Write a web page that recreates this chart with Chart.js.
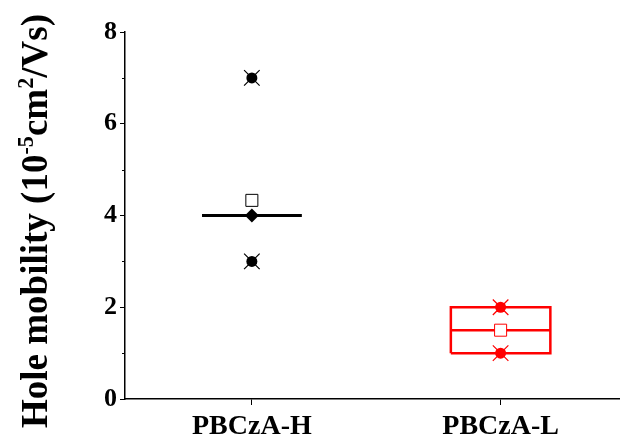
<!DOCTYPE html>
<html>
<head>
<meta charset="utf-8">
<script src="https://cdn.jsdelivr.net/npm/chart.js"></script>
<style>body{margin:0;background:#fff}</style>
</head>
<body>
<canvas id="myChart" width="620" height="439"></canvas>
<script>
// Data
const categories = ['PBCzA-H', 'PBCzA-L'];
const colors = ['#000000', '#ff0000'];
const samples = [[7, 3], [2, 1]];
const diamonds = [4, null];
const boxLow = [4, 1];
const boxHigh = [4, 2];
const medians = [4, 1.5];
const means = [4.33, 1.5];
const yTicks = [0, 2, 4, 6, 8];
const yMinor = [1, 3, 5, 7];
const halfWidth = 0.2;

const serif = "'Liberation Serif', 'Times New Roman', serif";

const datasets = [];
categories.forEach(function (c, i) {
  const x = i + 1;
  const lo = boxLow[i], hi = boxHigh[i];
  datasets.push({
    data: [{x: x - halfWidth, y: lo}, {x: x + halfWidth, y: lo}, {x: x + halfWidth, y: hi},
           {x: x - halfWidth, y: hi}, {x: x - halfWidth, y: lo}],
    showLine: true, borderColor: colors[i], borderWidth: i == 0 ? 3 : 2.5,
    pointRadius: 0, order: 5
  });
  datasets.push({
    data: [{x: x - halfWidth, y: medians[i]}, {x: x + halfWidth, y: medians[i]}],
    showLine: true, borderColor: colors[i], borderWidth: i == 0 ? 3 : 2.5,
    pointRadius: 0, order: 5
  });
  datasets.push({
    data: samples[i].map(v => ({x: x, y: v})),
    pointStyle: 'circle', pointRadius: 5.5, backgroundColor: colors[i],
    borderWidth: 0, order: 2
  });
  datasets.push({
    data: samples[i].map(v => ({x: x, y: v})),
    pointStyle: 'crossRot', pointRadius: 11, borderColor: colors[i],
    borderWidth: 1.2, order: 1
  });
  datasets.push({
    data: [{x: x, y: means[i]}],
    pointStyle: 'rect', pointRadius: 8.5, backgroundColor: '#ffffff',
    borderColor: colors[i], borderWidth: 1, order: 0
  });
  if (diamonds[i] !== null) {
    datasets.push({
      data: [{x: x, y: diamonds[i]}],
      pointStyle: 'rectRot', pointRadius: 7, backgroundColor: colors[i],
      borderColor: colors[i], borderWidth: 0, order: 0
    });
  }
});

// y title with superscripts + minor ticks
const extras = {
  id: 'extras',
  afterDraw(chart) {
    const ctx = chart.ctx;
    const ys = chart.scales.y;
    const left = chart.chartArea.left;
    ctx.save();
    ctx.strokeStyle = '#000';
    ctx.lineWidth = 1;
    yMinor.forEach(function (v) {
      const y = Math.round(ys.getPixelForValue(v)) + 0.5;
      ctx.beginPath();
      ctx.moveTo(left - 3, y);
      ctx.lineTo(left, y);
      ctx.stroke();
    });
    ctx.restore();

    const size = 37;
    const parts = [
      ['Hole mobility (10', false], ['-5', true], ['cm', false], ['2', true], ['/Vs)', false]
    ];
    ctx.save();
    ctx.fillStyle = '#000';
    ctx.textBaseline = 'alphabetic';
    let total = 0;
    parts.forEach(function (p) {
      ctx.font = 'bold ' + (p[1] ? size * 0.6 : size) + 'px ' + serif;
      p.push(ctx.measureText(p[0]).width);
      total += p[2];
    });
    ctx.translate(47, 221);
    ctx.rotate(-Math.PI / 2);
    let pos = -total / 2;
    parts.forEach(function (p) {
      ctx.font = 'bold ' + (p[1] ? size * 0.6 : size) + 'px ' + serif;
      ctx.fillText(p[0], pos, p[1] ? -size * 0.38 : 0);
      pos += p[2];
    });
    ctx.restore();
  }
};

const config = {
  type: 'scatter',
  data: {datasets: datasets},
  options: {
    responsive: false,
    animation: false,
    layout: {autoPadding: false, padding: {top: 32, right: 0, left: 0, bottom: 0}},
    plugins: {legend: {display: false}, tooltip: {enabled: false}},
    scales: {
      x: {
        type: 'linear', min: 0.49, max: 2.48,
        afterBuildTicks: s => { s.ticks = categories.map((c, i) => ({value: i + 1})); },
        afterFit: s => { s.height = 40; },
        ticks: {
          callback: (v, i) => categories[i],
          font: {family: serif, size: 28, weight: 'bold'}, color: '#000', padding: 5,
          maxRotation: 0, autoSkip: false
        },
        grid: {drawOnChartArea: false, tickLength: 6, color: '#000', lineWidth: 1},
        border: {color: '#000', width: 1.5}
      },
      y: {
        min: 0, max: 8,
        afterBuildTicks: s => { s.ticks = yTicks.map(v => ({value: v})); },
        afterFit: s => { s.width = 125; },
        ticks: {
          font: {family: serif, size: 26, weight: 'bold'}, color: '#000', padding: 3
        },
        grid: {drawOnChartArea: false, tickLength: 5, color: '#000', lineWidth: 1},
        border: {color: '#000', width: 1.5}
      }
    }
  },
  plugins: [extras]
};

var myChart = new Chart(document.getElementById('myChart'), config);
</script>
</body>
</html>
